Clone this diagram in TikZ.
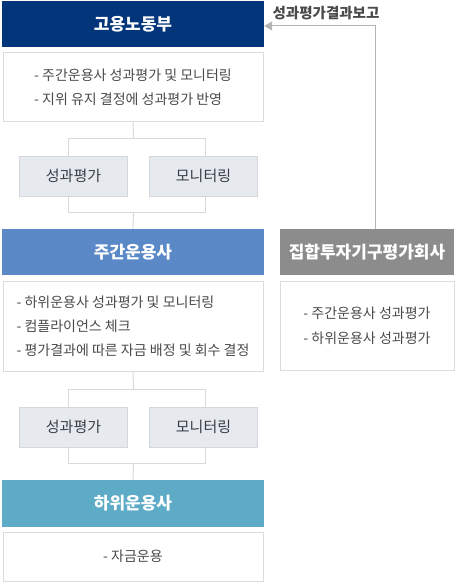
\documentclass[tikz,border=0pt]{standalone}
\usepackage{fontspec}
\setmainfont{Noto Sans CJK KR}
\usetikzlibrary{arrows.meta}
\definecolor{moelblue}{HTML}{03357A}
\definecolor{mainblue}{HTML}{5B89C7}
\definecolor{subblue}{HTML}{5EABC7}
\definecolor{evalgray}{HTML}{8C8C8C}
\definecolor{descline}{HTML}{DCDCDC}
\definecolor{desctext}{HTML}{4A4A4A}
\definecolor{tagfill}{HTML}{E6E9EE}
\definecolor{tagline}{HTML}{D3D6DA}
\definecolor{tagtext}{HTML}{383D48}
\definecolor{linkgray}{HTML}{D9D9D9}
\definecolor{rptgray}{HTML}{B4B4B4}

\begin{document}
\begin{tikzpicture}[x=1pt,y=-1pt,
  head/.style={rectangle,minimum width=262pt,minimum height=46pt,inner sep=0pt,text=white,font=\fontsize{17}{20}\selectfont\bfseries},
  desc/.style={rectangle,draw=descline,line width=1pt,fill=white,minimum width=260pt,inner sep=0pt,align=left,text=desctext,font=\fontsize{14}{24}\selectfont},
  tag/.style={rectangle,draw=tagline,line width=1pt,fill=tagfill,minimum width=108pt,minimum height=40pt,inner sep=0pt,text=tagtext,font=\fontsize{15}{17}\selectfont},
  link/.style={draw=linkgray,line width=1pt}]
  \useasboundingbox (0,0) rectangle (456,583);

  % upper level
  \node[head,fill=moelblue] (moel) at (133,24) {고용노동부};
  \node[desc,minimum height=69pt] (desc1) at (133,87.5) {- 주간운용사 성과평가 및 모니터링\\- 지위 유지 결정에 성과평가 반영};
  \node[tag] (eval1) at (73.5,176) {성과평가};
  \node[tag] (mon1) at (203.5,176) {모니터링};

  % middle level
  \node[head,fill=mainblue] (main) at (133,252) {주간운용사};
  \node[desc,minimum height=90pt] (desc2) at (133,326) {- 하위운용사 성과평가 및 모니터링\\- 컴플라이언스 체크\\- 평가결과에 따른 자금 배정 및 회수 결정};
  \node[tag] (eval2) at (73.5,427) {성과평가};
  \node[tag] (mon2) at (203.5,427) {모니터링};

  % lower level
  \node[head,fill=subblue,minimum height=47pt] (sub) at (133,503.5) {하위운용사};
  \node[desc,minimum height=49pt] (desc4) at (133,556.5) {- 자금운용};

  % evaluation company
  \node[head,fill=evalgray,minimum width=174pt] (evalco) at (367,252) {집합투자기구평가회사};
  \node[desc,minimum width=174pt,minimum height=89pt,font=\fontsize{14}{25}\selectfont] (desc3) at (367,325.5) {- 주간운용사 성과평가\\- 하위운용사 성과평가};

  % connectors
  \coordinate (j1) at (133.5,138);
  \coordinate (j2) at (133.5,212);
  \coordinate (j3) at (133.5,389);
  \coordinate (j4) at (133.5,463);
  \draw[link] (desc1.south) -- (j1);
  \draw[link] (j1) -| ([xshift=-5pt]eval1.north);
  \draw[link] (j1) -| ([xshift=2pt]mon1.north);
  \draw[link] ([xshift=-5pt]eval1.south) |- (j2);
  \draw[link] ([xshift=2pt]mon1.south) |- (j2);
  \draw[link] (j2) -- (main.north);
  \draw[link] (desc2.south) -- (j3);
  \draw[link] (j3) -| ([xshift=-5pt]eval2.north);
  \draw[link] (j3) -| ([xshift=2pt]mon2.north);
  \draw[link] ([xshift=-5pt]eval2.south) |- (j4);
  \draw[link] ([xshift=2pt]mon2.south) |- (j4);
  \draw[link] (j4) -- (sub.north);

  % report arrow
  \draw[draw=rptgray,line width=1pt,-{Triangle[width=9pt,length=8pt]}] ([xshift=8pt]evalco.north) |- ([yshift=-2pt]moel.east);
  \node[text=desctext,font=\fontsize{14.5}{16}\selectfont\bfseries] (rpt) at (326,13) {성과평가결과보고};
\end{tikzpicture}
\end{document}
